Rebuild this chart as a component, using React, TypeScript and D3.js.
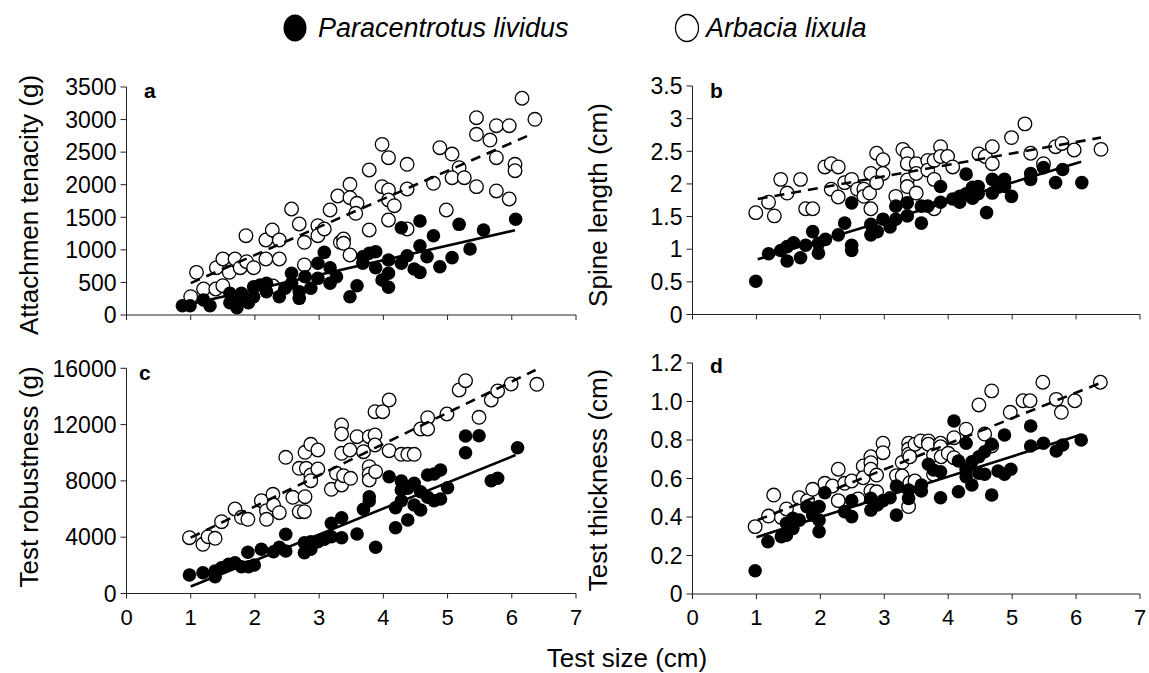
import React from "react";
import * as d3 from "d3";

type Pt = [number, number];

// legend / species
const speciesFilled = "Paracentrotus lividus";
const speciesOpen = "Arbacia lixula";

const xTicks = [0, 1, 2, 3, 4, 5, 6, 7];
const xTitle = "Test size (cm)";

// panel a: attachment tenacity
const aTicks = [0, 500, 1000, 1500, 2000, 2500, 3000, 3500];
const aTickLabels = ["0", "500", "1000", "1500", "2000", "2500", "3000", "3500"];
const aOpen: Pt[] = [
  [1.09, 655], [1.0, 281], [1.2, 399], [1.4, 726], [1.39, 399], [1.5, 860], [1.5, 450], [1.6, 655],
  [1.69, 860], [1.77, 726], [1.87, 818], [1.98, 726], [1.86, 1217], [2.17, 1151], [2.27, 1305],
  [2.38, 1151], [2.17, 860], [2.38, 860], [2.28, 445], [2.57, 1627], [2.69, 1397], [2.77, 1116],
  [2.77, 768], [2.98, 1371], [2.98, 1217], [3.08, 1320], [3.17, 1612], [3.29, 1827], [3.33, 1116],
  [3.48, 2006], [3.48, 1801], [3.59, 1715], [3.57, 1561], [3.38, 1167], [3.38, 1101], [3.48, 921],
  [3.78, 2226], [3.98, 2620], [4.08, 2415], [3.98, 1970], [4.08, 1919], [4.08, 1765], [4.17, 1678],
  [4.37, 2313], [4.37, 1934], [4.08, 1458], [3.78, 1305], [4.37, 1320], [4.78, 2022], [4.88, 2568],
  [5.07, 2471], [5.18, 2261], [5.07, 2108], [5.26, 2108], [4.98, 1612], [5.45, 3029], [5.45, 2774],
  [5.66, 2686], [5.76, 2906], [5.96, 2906], [5.76, 2415], [5.45, 1970], [5.76, 1904], [5.96, 1781],
  [6.05, 2313], [6.05, 2215], [6.16, 3327], [6.36, 3004],
];
const aFilled: Pt[] = [
  [0.87, 143], [0.99, 143], [1.2, 230], [1.3, 143], [1.61, 333], [1.61, 189], [1.72, 230], [1.72, 112],
  [1.9, 189], [1.79, 333], [1.98, 281], [1.98, 434], [2.08, 461], [2.18, 487], [2.18, 358], [2.38, 281],
  [2.47, 410], [2.57, 640], [2.57, 487], [2.69, 358], [2.69, 256], [2.78, 588], [2.87, 410], [2.98, 794],
  [2.98, 563], [3.08, 962], [3.17, 726], [3.17, 487], [3.27, 588], [3.48, 281], [3.59, 450], [3.68, 794],
  [3.68, 895], [3.78, 947], [3.88, 972], [3.88, 726], [3.98, 537], [4.08, 844], [4.08, 640], [4.08, 425],
  [4.28, 1340], [4.28, 794], [4.37, 910], [4.48, 706], [4.57, 1443], [4.57, 1064], [4.57, 655],
  [4.68, 895], [4.78, 1217], [4.88, 741], [5.07, 880], [5.18, 1392], [5.35, 1013], [5.56, 1305],
  [6.06, 1469],
];
const aFitFilled: Pt[] = [[1.0, 170], [6.05, 1300]];
const aFitOpen: Pt[] = [[1.0, 490], [6.27, 2760]];

// panel b: spine length
const bTicks = [0, 0.5, 1, 1.5, 2, 2.5, 3, 3.5];
const bTickLabels = ["0", "0.5", "1", "1.5", "2", "2.5", "3", "3.5"];
const bOpen: Pt[] = [
  [0.99, 1.56], [1.19, 1.72], [1.28, 1.51], [1.38, 2.07], [1.48, 1.86], [1.69, 2.07], [1.77, 1.62],
  [1.88, 1.62], [2.07, 2.26], [2.17, 2.31], [2.28, 2.26], [2.17, 1.92], [2.28, 1.8], [2.38, 2.02],
  [2.49, 2.07], [2.58, 1.92], [2.68, 1.92], [2.68, 1.81], [2.77, 1.86], [2.79, 2.16], [2.88, 2.47],
  [2.98, 2.37], [2.98, 2.16], [2.88, 2.02], [2.79, 1.62], [3.18, 1.81], [3.29, 2.53], [3.36, 2.46],
  [3.36, 2.31], [3.36, 2.06], [3.36, 1.96], [3.5, 2.31], [3.5, 2.16], [3.5, 1.86], [3.68, 2.36],
  [3.68, 2.21], [3.78, 2.36], [3.78, 2.07], [3.88, 2.57], [3.88, 2.42], [3.99, 2.42], [4.07, 2.26],
  [3.78, 1.62], [4.48, 2.46], [4.58, 2.42], [4.69, 2.57], [4.69, 2.31], [4.99, 2.71], [5.2, 2.92],
  [5.29, 2.47], [5.49, 2.31], [5.68, 2.57], [5.78, 2.62], [5.97, 2.52], [6.39, 2.53],
];
const bFilled: Pt[] = [
  [0.99, 0.51], [1.19, 0.93], [1.38, 0.98], [1.48, 0.82], [1.48, 1.04], [1.58, 1.1], [1.69, 0.87],
  [1.77, 1.06], [1.88, 1.27], [1.97, 0.94], [1.97, 1.09], [2.08, 1.15], [2.28, 1.22], [2.38, 1.4],
  [2.49, 1.71], [2.49, 1.06], [2.49, 0.98], [2.79, 1.38], [2.79, 1.22], [2.89, 1.27], [2.98, 1.46],
  [3.09, 1.34], [3.18, 1.66], [3.18, 1.46], [3.36, 1.71], [3.36, 1.51], [3.58, 1.66], [3.58, 1.4],
  [3.68, 1.66], [3.88, 1.96], [3.88, 1.72], [4.07, 1.77], [4.18, 1.81], [4.18, 1.72], [4.28, 2.15],
  [4.28, 1.85], [4.38, 1.95], [4.38, 1.78], [4.47, 1.96], [4.47, 1.85], [4.6, 1.56], [4.69, 2.07],
  [4.69, 1.86], [4.78, 1.95], [4.88, 2.07], [4.88, 1.96], [4.99, 1.81], [5.29, 2.16], [5.29, 2.07],
  [5.49, 2.25], [5.68, 2.02], [5.79, 2.22], [6.09, 2.02],
];
const bFitFilled: Pt[] = [[1.02, 0.845], [6.08, 2.34]];
const bFitOpen: Pt[] = [[1.02, 1.77], [6.39, 2.71]];

// panel c: test robustness
const cTicks = [0, 4000, 8000, 12000, 16000];
const cTickLabels = ["0", "4000", "8000", "12000", "16000"];
const cOpen: Pt[] = [
  [0.98, 3965], [1.19, 3496], [1.27, 4036], [1.38, 3922], [1.48, 5101], [1.69, 6004], [1.79, 5414],
  [1.89, 5272], [2.1, 6593], [2.18, 5883], [2.18, 5272], [2.28, 7048], [2.29, 6288], [2.38, 5741],
  [2.48, 9677], [2.59, 6835], [2.69, 5812], [2.77, 5812], [2.78, 6878], [2.69, 8895], [2.78, 10032],
  [2.87, 10601], [2.98, 10196], [2.8, 8895], [2.87, 8419], [2.87, 8014], [2.98, 8846], [3.19, 7403],
  [3.27, 8540], [3.35, 11972], [3.35, 11332], [3.35, 9961], [3.35, 7709], [3.59, 11141], [3.78, 11141],
  [3.87, 11261], [3.87, 10551], [3.48, 10196], [3.69, 10075], [3.38, 8370], [3.49, 8185], [3.78, 9009],
  [3.78, 8490], [3.78, 8064], [3.88, 8654], [3.87, 12917], [3.99, 12917], [4.09, 13748], [4.09, 10146],
  [4.28, 9890], [4.38, 9890], [4.48, 9890], [4.58, 11687], [4.69, 12491], [4.69, 11687], [4.99, 12753],
  [5.18, 14459], [5.28, 15119], [5.49, 12519], [5.68, 13748], [5.78, 14388], [5.99, 14885], [6.39, 14864],
];
const cFilled: Pt[] = [
  [0.98, 1314], [1.19, 1478], [1.38, 1194], [1.38, 1599], [1.48, 1833], [1.59, 2075], [1.69, 2188],
  [1.79, 1904], [1.89, 2927], [1.9, 1904], [1.99, 2025], [2.1, 3140], [2.29, 2970], [2.38, 3283],
  [2.48, 4206], [2.48, 3020], [2.77, 3609], [2.77, 2899], [2.87, 3680], [2.87, 3140], [2.98, 3680],
  [3.08, 3851], [3.19, 4988], [3.19, 4036], [3.35, 5386], [3.35, 3965], [3.59, 4227], [3.69, 5982],
  [3.78, 6878], [3.78, 6572], [3.88, 3283], [4.09, 8299], [4.19, 6096], [4.19, 4675], [4.28, 7993],
  [4.28, 7354], [4.28, 6593], [4.38, 7474], [4.38, 5222], [4.48, 7830], [4.48, 6288], [4.58, 7233],
  [4.58, 5933], [4.69, 8419], [4.69, 6835], [4.79, 8490], [4.79, 6593], [4.89, 8775], [4.89, 6714],
  [5.0, 7517], [5.28, 11190], [5.28, 10004], [5.49, 11212], [5.68, 8014], [5.78, 8185], [6.09, 10359],
];
const cFitFilled: Pt[] = [[1.0, 500], [6.06, 9840]];
const cFitOpen: Pt[] = [[1.0, 3970], [6.37, 15880]];

// panel d: test thickness
const dTicks = [0, 0.2, 0.4, 0.6, 0.8, 1.0, 1.2];
const dTickLabels = ["0", "0.2", "0.4", "0.6", "0.8", "1.0", "1.2"];
const dOpen: Pt[] = [
  [0.98, 0.35], [1.19, 0.405], [1.27, 0.514], [1.39, 0.398], [1.47, 0.442], [1.67, 0.5], [1.8, 0.485],
  [1.88, 0.544], [2.07, 0.575], [2.19, 0.561], [2.28, 0.648], [2.28, 0.485], [2.38, 0.575], [2.49, 0.587],
  [2.59, 0.494], [2.67, 0.665], [2.67, 0.604], [2.79, 0.713], [2.79, 0.682], [2.79, 0.648], [2.88, 0.618],
  [2.79, 0.535], [2.88, 0.531], [2.98, 0.783], [2.98, 0.734], [3.19, 0.615], [3.28, 0.684], [3.38, 0.783],
  [3.38, 0.753], [3.38, 0.575], [3.38, 0.454], [3.38, 0.726], [3.48, 0.778], [3.57, 0.795], [3.69, 0.795],
  [3.69, 0.778], [3.88, 0.783], [3.88, 0.765], [3.28, 0.613], [3.4, 0.713], [3.4, 0.578], [3.48, 0.587],
  [3.77, 0.722], [3.77, 0.622], [3.89, 0.713], [4.0, 0.731], [4.09, 0.812], [4.09, 0.708], [4.28, 0.856],
  [4.57, 0.831], [4.68, 0.769], [4.48, 0.982], [4.68, 1.055], [4.97, 0.944], [5.17, 1.004], [5.28, 1.004],
  [5.48, 1.1], [5.69, 1.011], [5.77, 0.944], [5.98, 1.004], [6.38, 1.1],
];
const dFilled: Pt[] = [
  [0.98, 0.121], [1.18, 0.272], [1.39, 0.298], [1.47, 0.306], [1.47, 0.367], [1.57, 0.393], [1.57, 0.341],
  [1.67, 0.384], [1.79, 0.454], [1.88, 0.445], [1.98, 0.454], [1.98, 0.384], [1.98, 0.324], [1.88, 0.41],
  [2.07, 0.526], [2.38, 0.428], [2.49, 0.485], [2.49, 0.402], [2.79, 0.436], [2.79, 0.497], [2.89, 0.462],
  [2.98, 0.485], [3.09, 0.5], [3.19, 0.561], [3.19, 0.41], [3.38, 0.54], [3.38, 0.497], [3.58, 0.535],
  [3.58, 0.566], [3.69, 0.674], [3.77, 0.644], [3.88, 0.635], [3.88, 0.5], [4.09, 0.899], [4.16, 0.531],
  [4.16, 0.691], [4.28, 0.783], [4.28, 0.648], [4.28, 0.609], [4.37, 0.687], [4.37, 0.566], [4.48, 0.713],
  [4.48, 0.627], [4.57, 0.739], [4.57, 0.622], [4.68, 0.778], [4.68, 0.514], [4.78, 0.639], [4.88, 0.826],
  [4.88, 0.622], [4.98, 0.648], [5.29, 0.873], [5.29, 0.769], [5.49, 0.783], [5.69, 0.743], [5.79, 0.774],
  [6.08, 0.8],
];
const dFitFilled: Pt[] = [[1.0, 0.295], [6.06, 0.826]];
const dFitOpen: Pt[] = [[1.02, 0.384], [6.37, 1.095]];

const FONT = "'Liberation Sans', Arial, Helvetica, sans-serif";
const R = 6.8;

type PanelProps = {
  letter: string;
  title: string;
  x0: number; x1: number; yTop: number; yBottom: number;
  ticks: number[]; tickLabels: string[];
  open: Pt[]; filled: Pt[]; fitOpen: Pt[]; fitFilled: Pt[];
  showXLabels: boolean;
  titleX: number; titleY: number;
  letterX: number; letterY: number;
};

const Panel = (p: PanelProps) => {
  const x = d3.scaleLinear().domain([0, 7]).range([p.x0, p.x1]);
  const y = d3.scaleLinear().domain([0, p.ticks[p.ticks.length - 1]]).range([p.yBottom, p.yTop]);
  const line = d3.line<Pt>().x(d => x(d[0])).y(d => y(d[1]));

  return (
    <g>
      {/* axes */}
      <line x1={p.x0} x2={p.x0} y1={p.yTop} y2={p.yBottom} stroke="#222" strokeWidth={1} />
      <line x1={p.x0} x2={p.x1} y1={p.yBottom} y2={p.yBottom} stroke="#222" strokeWidth={1} />
      {p.ticks.map((t, i) => (
        <g key={"y" + i}>
          <line x1={p.x0 - 6} x2={p.x0} y1={y(t)} y2={y(t)} stroke="#222" />
          <text x={p.x0 - 10} y={y(t)} dy="0.36em" textAnchor="end" fontSize={23} fontFamily={FONT}>
            {p.tickLabels[i]}
          </text>
        </g>
      ))}
      {xTicks.map(t => (
        <g key={"x" + t}>
          <line x1={x(t)} x2={x(t)} y1={p.yBottom} y2={p.yBottom + 5} stroke="#222" />
          {p.showXLabels && (
            <text x={x(t)} y={p.yBottom + 31} textAnchor="middle" fontSize={22} fontFamily={FONT}>
              {t}
            </text>
          )}
        </g>
      ))}
      <text transform={`translate(${p.titleX},${p.titleY}) rotate(-90)`} textAnchor="middle"
        fontSize={26} fontFamily={FONT}>{p.title}</text>
      <text x={p.letterX} y={p.letterY} fontSize={21} fontWeight="bold" fontFamily={FONT}>{p.letter}</text>

      {/* points */}
      {p.open.map((d, i) => (
        <circle key={"o" + i} cx={x(d[0])} cy={y(d[1])} r={R} fill="#fff" stroke="#000" strokeWidth={1.3} />
      ))}
      {p.filled.map((d, i) => (
        <circle key={"f" + i} cx={x(d[0])} cy={y(d[1])} r={R} fill="#000" />
      ))}

      {/* fitted lines */}
      <path d={line(p.fitFilled) || ""} fill="none" stroke="#000" strokeWidth={2.6} />
      <path d={line(p.fitOpen) || ""} fill="none" stroke="#000" strokeWidth={2.6} strokeDasharray="10,7" />
    </g>
  );
};

export default function App() {
  return (
    <svg width={1149} height={673} style={{ position: "absolute", left: 0, top: 0, background: "#fff" }}>
      {/* legend */}
      <ellipse cx={295} cy={28} rx={11.5} ry={13.5} fill="#000" />
      <text x={318} y={37} fontSize={27} fontStyle="italic" fontFamily={FONT}>{speciesFilled}</text>
      <ellipse cx={687} cy={28} rx={11.5} ry={13.5} fill="#fff" stroke="#000" strokeWidth={1.3} />
      <text x={706} y={37} fontSize={27} fontStyle="italic" fontFamily={FONT}>{speciesOpen}</text>

      <Panel letter="a" title="Attachmen tenacity (g)" x0={126.5} x1={576} yTop={87} yBottom={315}
        ticks={aTicks} tickLabels={aTickLabels} open={aOpen} filled={aFilled}
        fitOpen={aFitOpen} fitFilled={aFitFilled} showXLabels={false}
        titleX={38} titleY={205} letterX={144} letterY={98} />
      <Panel letter="b" title="Spine length (cm)" x0={692.5} x1={1140} yTop={86} yBottom={314.5}
        ticks={bTicks} tickLabels={bTickLabels} open={bOpen} filled={bFilled}
        fitOpen={bFitOpen} fitFilled={bFitFilled} showXLabels={false}
        titleX={607} titleY={205} letterX={710} letterY={98} />
      <Panel letter="c" title="Test robustness (g)" x0={126.5} x1={576} yTop={368.3} yBottom={593.5}
        ticks={cTicks} tickLabels={cTickLabels} open={cOpen} filled={cFilled}
        fitOpen={cFitOpen} fitFilled={cFitFilled} showXLabels={true}
        titleX={38} titleY={477} letterX={139} letterY={380} />
      <Panel letter="d" title="Test thickness (cm)" x0={692.5} x1={1140} yTop={363} yBottom={594}
        ticks={dTicks} tickLabels={dTickLabels} open={dOpen} filled={dFilled}
        fitOpen={dFitOpen} fitFilled={dFitFilled} showXLabels={true}
        titleX={607} titleY={480} letterX={710} letterY={373} />

      <text x={627} y={667} textAnchor="middle" fontSize={26} fontFamily={FONT}>{xTitle}</text>
    </svg>
  );
}
